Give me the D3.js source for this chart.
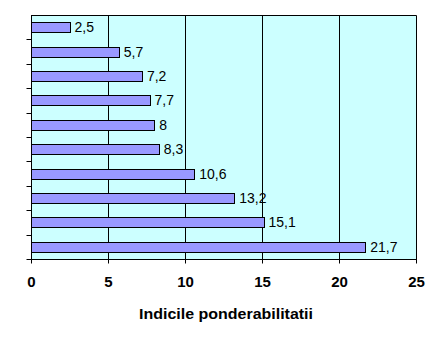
<!doctype html>
<html lang="en">
<head>
    <title></title>
    <script src="https://d3js.org/d3.v7.min.js"></script>
    <style type="text/css">
        body { margin: 0; background: #fff; }
        text { font-family: Arial, "Liberation Sans", sans-serif; }
    </style>
</head>

<body>
</body>

<script type="text/javascript">

    var width  = 444;
    var height = 343;

    // bars from top to bottom, categories have no labels in the original
    var categories = ["1","2","3","4","5","6","7","8","9","10"];
    var values = [2.5, 5.7, 7.2, 7.7, 8, 8.3, 10.6, 13.2, 15.1, 21.7];
    var xTicks = [0, 5, 10, 15, 20, 25];
    var axisTitle = "Indicile ponderabilitatii";

    var plot = {left: 31, top: 15, right: 416, bottom: 259};

    var x = d3.scaleLinear()
        .domain([0, 25])
        .range([plot.left, plot.right]);

    var y = d3.scaleBand()
        .domain(categories)
        .range([plot.top, plot.bottom])
        .paddingInner(0.59)
        .paddingOuter(0.295);

    var yBounds = d3.scaleBand()
        .domain(categories)
        .range([plot.top, plot.bottom]);

    var svg = d3.select("body")
        .append("svg")
        .attr("width", width)
        .attr("height", height);

    svg.append("rect")
        .attr("x", plot.left)
        .attr("y", plot.top)
        .attr("width", plot.right - plot.left)
        .attr("height", plot.bottom - plot.top)
        .style("fill", "#CCFFFF");

    // vertical gridlines
    svg.selectAll(".grid")
        .data(xTicks.slice(1, -1))
        .enter()
        .append("line")
        .attr("x1", d => Math.round(x(d)) + 0.5)
        .attr("x2", d => Math.round(x(d)) + 0.5)
        .attr("y1", plot.top)
        .attr("y2", plot.bottom)
        .style("stroke", "#000")
        .style("stroke-width", 1);

    // plot border (top and right)
    svg.append("path")
        .attr("d", "M" + (plot.left) + "," + (plot.top + 0.5) + "H" + (plot.right + 0.5) + "V" + plot.bottom)
        .style("fill", "none")
        .style("stroke", "#000");

    svg.selectAll(".bar")
        .data(values)
        .enter()
        .append("rect")
        .attr("x", x(0) + 0.5)
        .attr("y", (d, i) => Math.round(y(categories[i])) + 0.5)
        .attr("width", d => Math.round(x(d) - x(0)))
        .attr("height", Math.round(y.bandwidth()))
        .style("fill", "#9999FF")
        .style("stroke", "#000")
        .style("stroke-width", 1);

    svg.selectAll(".val")
        .data(values)
        .enter()
        .append("text")
        .attr("x", d => x(d) + 5)
        .attr("y", (d, i) => y(categories[i]) + y.bandwidth() / 2 + 5)
        .style("font-size", "14px")
        .style("fill", "#000")
        .text(d => String(d).replace(".", ","));

    // x axis
    var xAxis = svg.append("g")
        .attr("transform", "translate(0," + (plot.bottom + 0.5) + ")")
        .call(d3.axisBottom(x).tickValues(xTicks).tickSize(4).tickPadding(13));
    xAxis.select(".domain").attr("d", "M" + plot.left + ",0H" + (plot.right + 1));
    xAxis.selectAll("line").attr("transform", function(){ return null; });
    xAxis.selectAll(".tick line").each(function(d){
        d3.select(this.parentNode).attr("transform", "translate(" + (Math.round(x(d)) + 0.5) + ",0)");
    });
    xAxis.selectAll("text")
        .style("font-size", "15px")
        .style("font-weight", "bold")
        .style("font-family", "Arial, 'Liberation Sans', sans-serif");
    xAxis.selectAll("path, line").style("stroke", "#000");

    // y axis with ticks on category boundaries
    var yAxis = svg.append("g")
        .attr("transform", "translate(" + (plot.left + 0.5) + ",0)");
    yAxis.append("line")
        .attr("y1", plot.top)
        .attr("y2", plot.bottom + 1)
        .style("stroke", "#000");
    yAxis.selectAll(".ytick")
        .data(categories)
        .enter()
        .append("line")
        .attr("x1", -5)
        .attr("x2", 0)
        .attr("y1", d => Math.round(yBounds(d) + yBounds.bandwidth()) + 0.5)
        .attr("y2", d => Math.round(yBounds(d) + yBounds.bandwidth()) + 0.5)
        .style("stroke", "#000");

    svg.append("text")
        .attr("x", 226)
        .attr("y", 319)
        .attr("text-anchor", "middle")
        .attr("textLength", 174)
        .attr("lengthAdjust", "spacingAndGlyphs")
        .style("font-size", "15px")
        .style("font-weight", "bold")
        .text(axisTitle);

</script>

</html>
